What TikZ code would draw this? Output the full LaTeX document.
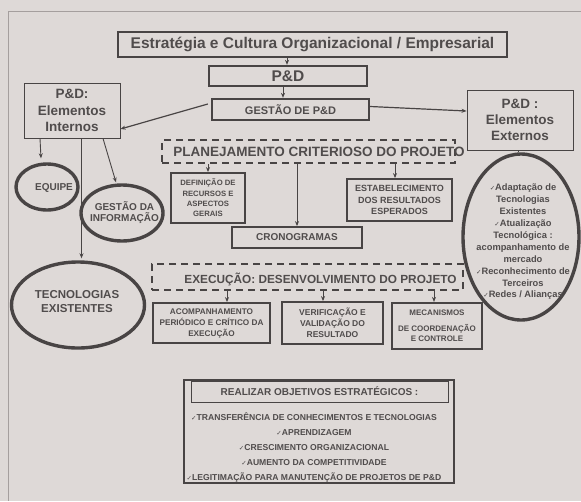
\documentclass[tikz,border=0pt]{standalone}
\usepackage{fontspec}
\setmainfont{Liberation Sans}
\newfontfamily\symfont{DejaVu Sans}
\usetikzlibrary{shapes.geometric,arrows.meta}
\definecolor{paper}{RGB}{222,217,215}
\definecolor{ink}{RGB}{72,68,68}
\definecolor{txt}{RGB}{80,76,76}
\definecolor{rule}{RGB}{165,159,158}
\newcommand\fs[2]{\fontsize{#1}{#2}\selectfont\bfseries}
\newcommand\ck{{\symfont\fontsize{6.5}{6.5}\selectfont ✓}}
\begin{document}
\begin{tikzpicture}[x=1pt,y=-1pt,
  every node/.style={inner sep=0pt, text=txt, align=center},
  boxA/.style={draw=ink, line width=2.6pt, rectangle},
  boxB/.style={draw=ink, line width=1.8pt, rectangle},
  boxC/.style={draw=ink, line width=0.9pt, rectangle},
  dbox/.style={draw=ink, line width=2.4pt, dash pattern=on 7pt off 5pt, rectangle},
  oval/.style={draw=ink, line width=3.4pt, ellipse},
  conn/.style={draw=ink, line width=0.9pt, -{Stealth[length=5pt,width=4pt]}},
  link/.style={draw=ink, line width=0.9pt}]

% paper and page frame
\fill[paper] (0,0) rectangle (581,501);
\useasboundingbox (0,0) rectangle (581,501);
\draw[rule, line width=0.8pt] (581,11) -- (8,11) -- (8,501);

% top hierarchy
\node[boxA, minimum width=389pt, minimum height=25pt, font=\fs{15.5}{18}] (strat) at (312.5,44.5) {Estratégia e Cultura Organizacional / Empresarial};
\node[boxA, line width=2.3pt, minimum width=158pt, minimum height=20pt, font=\fs{15.5}{18}] (pd) at (288,76) {P\&D};
\node[boxA, line width=2.3pt, minimum width=157pt, minimum height=21pt, font=\fs{11}{13}] (gest) at (290.5,109.5) {GESTÃO DE P\&D};

% internal / external elements
\node[boxC, minimum width=96pt, minimum height=55pt, font=\fs{13.5}{16.5}] (intern) at (72,110.5) {P\&D:\\Elementos\\Internos};
\node[boxC, minimum width=106pt, minimum height=60pt, font=\fs{13.5}{16}] (extern) at (520,120) {P\&D :\\Elementos\\Externos};

\node[oval, minimum width=62pt, minimum height=46pt] (equipe) at (47,187) {};
\node[font=\fs{10}{12}] (equipeT) at (54,188) {EQUIPE};
\node[oval, minimum width=82pt, minimum height=56pt] (ginfo) at (122,213) {};
\node[font=\fs{10}{11.5}] (ginfoT) at (124.5,212.5) {GESTÃO DA\\INFORMAÇÃO};
\node[oval, minimum width=133pt, minimum height=86pt] (tecno) at (78,305) {};
\node[font=\fs{11.5}{14}] (tecnoT) at (77,302) {TECNOLOGIAS\\EXISTENTES};
\node[oval, minimum width=116pt, minimum height=166pt] (extov) at (521,237) {};
\node[font=\fs{9.3}{11.9}] (extovT) at (523,242) {\ck Adaptação de\\Tecnologias\\Existentes\\\ck Atualização\\Tecnológica :\\acompanhamento de\\mercado\\\ck Reconhecimento de\\Terceiros\\\ck Redes / Alianças};

% planning block
\node[dbox, minimum width=293pt, minimum height=23pt] (plan) at (308.5,151.5) {};
\node[font=\fs{13.5}{16}] (planT) at (319,152) {PLANEJAMENTO CRITERIOSO DO PROJETO};
\node[boxB, minimum width=74pt, minimum height=50pt, font=\fs{7.7}{10.3}] (defin) at (208,198) {DEFINIÇÃO DE\\RECURSOS E\\ASPECTOS\\GERAIS};
\node[boxB, minimum width=105pt, minimum height=42pt, font=\fs{9}{11.2}] (estab) at (399.5,200) {ESTABELECIMENTO\\DOS RESULTADOS\\ESPERADOS};
\node[boxB, minimum width=130pt, minimum height=21pt, font=\fs{10}{12}] (crono) at (297,237.5) {CRONOGRAMAS};

% execution block
\node[dbox, minimum width=311pt, minimum height=26pt] (exec) at (307.5,277) {};
\node[font=\fs{11.8}{14}] (execT) at (320.5,279) {EXECUÇÃO: DESENVOLVIMENTO DO PROJETO};
\node[boxB, minimum width=117pt, minimum height=40pt, font=\fs{8.2}{11}] (acomp) at (211.5,323) {ACOMPANHAMENTO\\PERIÓDICO E CRÍTICO DA\\EXECUÇÃO};
\node[boxB, minimum width=101pt, minimum height=42pt, font=\fs{8.5}{11}] (verif) at (332.5,323) {VERIFICAÇÃO E\\VALIDAÇÃO DO\\RESULTADO};
\node[boxA, line width=2.2pt, minimum width=90pt, minimum height=46pt, font=\fs{8}{10.5}] (mecan) at (437,326) {MECANISMOS\\[5pt]DE COORDENAÇÃO\\E CONTROLE};

% strategic objectives
\node[boxB, line width=2pt, minimum width=270pt, minimum height=103pt] (obj) at (319,431.5) {};
\node[boxC, minimum width=257pt, minimum height=21pt, font=\fs{10}{12}] (objT) at (319.5,391.5) {REALIZAR OBJETIVOS ESTRATÉGICOS :};
\node[font=\fs{8.6}{15}] (objL) at (314,448) {\ck TRANSFERÊNCIA DE CONHECIMENTOS E TECNOLOGIAS\\\ck APRENDIZAGEM\\\ck CRESCIMENTO ORGANIZACIONAL\\\ck AUMENTO DA COMPETITIVIDADE\\\ck LEGITIMAÇÃO PARA MANUTENÇÃO DE PROJETOS DE P\&D};

% connectors
\draw[conn] ([xshift=-1pt]pd.north |- strat.south) -- ([xshift=-1pt]pd.north);
\draw[conn] ([xshift=-5pt]pd.south) -- ([xshift=-5pt]pd.south |- gest.north);
\draw[conn, line width=1.2pt] ([xshift=-3pt,yshift=5.5pt]gest.west) -- ([yshift=-18.5pt]intern.east);
\draw[conn, line width=1.2pt] ([yshift=3pt]gest.east) -- ([yshift=9pt]extern.west);
\draw[conn] ([xshift=-32pt]intern.south) -- ([xshift=-6pt,yshift=4pt]equipe.north);
\draw[conn] ([xshift=31pt]intern.south) -- ([xshift=-6pt,yshift=1pt]ginfo.north);
\draw[conn, shorten >=2pt] ([xshift=9.5pt]intern.south) -- ([xshift=9.5pt]intern.south |- tecno.north);
\draw[link] ([xshift=-2pt]extern.south) -- ([xshift=-2pt]extern.south |- extov.north);

\draw[conn] (plan.south -| defin.north) -- (defin.north);
\draw[conn] (plan.south -| crono.north) -- (crono.north);
\path ([xshift=-4.5pt]estab.north) coordinate (e1);
\draw[conn] (plan.south -| e1) -- (e1);

\path ([xshift=15.5pt]acomp.north) coordinate (a1);
\path ([xshift=-9.5pt]verif.north) coordinate (a2);
\path ([xshift=-3pt]mecan.north) coordinate (a3);
\draw[conn] (exec.south -| a1) -- (a1);
\draw[conn] (exec.south -| a2) -- (a2);
\draw[conn] (exec.south -| a3) -- (a3);
\end{tikzpicture}
\end{document}
